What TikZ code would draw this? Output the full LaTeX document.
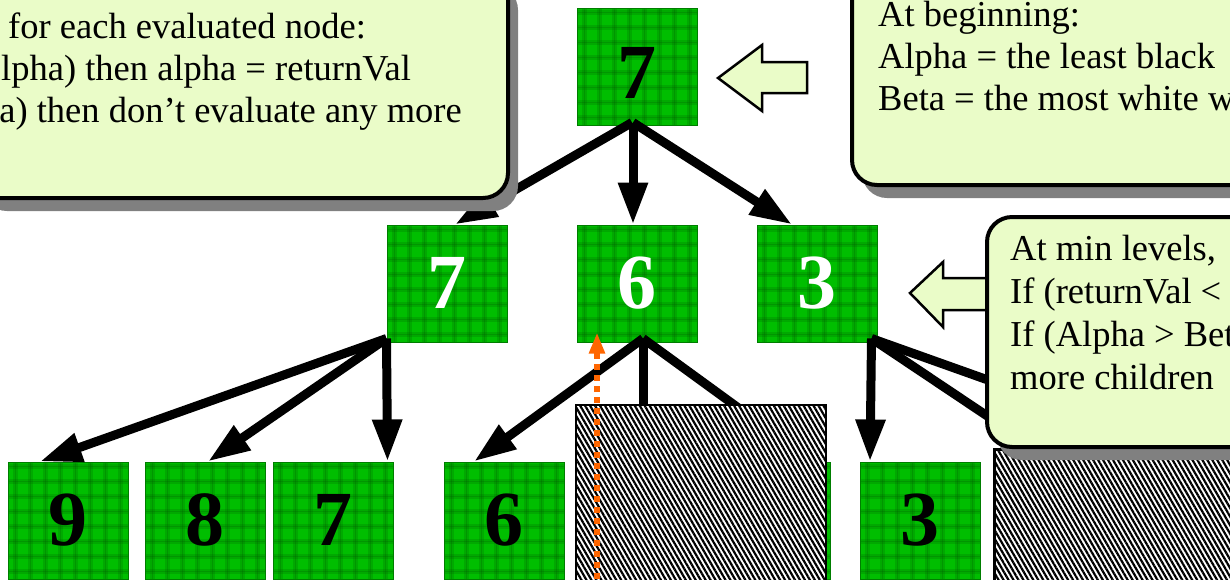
\documentclass[tikz,border=0pt]{standalone}
\usepackage{fontspec}
\setmainfont{Liberation Serif}
\usetikzlibrary{arrows.meta,patterns.meta,shadows}
\definecolor{gbase}{RGB}{0,190,0}
\definecolor{gline}{RGB}{0,95,0}
\definecolor{gborder}{RGB}{0,125,0}
\definecolor{callfill}{RGB}{234,252,200}
\definecolor{shadowgray}{RGB}{128,128,128}
\definecolor{orangearrow}{RGB}{255,102,0}
\begin{document}
\begin{tikzpicture}[x=1pt,y=-1pt,
  gnode/.style={rectangle, inner sep=0pt, minimum width=120pt, minimum height=117pt,
    fill=gbase, draw=gborder, line width=1pt,
    font=\fontsize{78}{78}\selectfont\bfseries, text height=55pt, text depth=6pt,
    path picture={
      \foreach \k in {0,...,7}{
        \draw[gline, line width=5pt, opacity=.22]
          ([xshift=\k*15pt+7.5pt]path picture bounding box.south west) --
          ([xshift=\k*15pt+7.5pt]path picture bounding box.north west);
        \draw[gline, line width=5pt, opacity=.22]
          ([yshift=\k*15pt+7.5pt]path picture bounding box.south west) --
          ([yshift=\k*15pt+7.5pt]path picture bounding box.south east);
        \draw[gline, line width=1.5pt, opacity=.25]
          ([xshift=\k*15pt+7.5pt]path picture bounding box.south west) --
          ([xshift=\k*15pt+7.5pt]path picture bounding box.north west);
        \draw[gline, line width=1.5pt, opacity=.25]
          ([yshift=\k*15pt+7.5pt]path picture bounding box.south west) --
          ([yshift=\k*15pt+7.5pt]path picture bounding box.south east);
      }}},
  tree/.style={line width=9pt, -{Triangle[length=42pt,width=28pt]}},
  hatch/.style={draw=black, line width=2.5pt, inner sep=0pt, preaction={fill=white},
    pattern={Lines[angle=-60, distance=4.3pt, line width=2.2pt]}, pattern color=black},
  blockarrow/.style={fill=callfill, draw=black, line width=2.5pt, line join=miter},
  callout/.style={rectangle, rounded corners=25pt, fill=callfill, draw=black, line width=4pt,
    inner sep=0pt, anchor=north west,
    drop shadow={shadow xshift=10pt, shadow yshift=-13pt, fill=shadowgray, opacity=1}},
  ctext/.style={inner sep=0pt, font=\fontsize{36.5}{42}\selectfont},
  orangeflow/.style={orangearrow, line width=6pt, dash pattern=on 6pt off 5pt,
    -{Triangle[length=21pt,width=15pt]}}
]
\useasboundingbox (0,0) rectangle (1230,579);
\clip (0,0) rectangle (1230,579);

% tree nodes
\node[gnode, text height=64pt, text depth=0pt] (t7) at (637,66.5) {7};
\node[gnode, text=white] (m7) at (447,283.5) {7};
\node[gnode, text=white] (m6) at (637,283.5) {6};
\node[gnode, text=white] (m3) at (817,283.5) {3};
\node[gnode] (b9) at (68,520.5) {9};
\node[gnode] (b8) at (205,520.5) {8};
\node[gnode] (b7) at (333,520.5) {7};
\node[gnode] (b6) at (504,520.5) {6};
\node[gnode] (h1) at (643,520.5) {};
\node[gnode] (h2) at (770,520.5) {};
\node[gnode] (b3) at (920,520.5) {3};
\coordinate (h3) at (1056,462);
\coordinate (h4) at (1218,462);

% edges
\draw[tree] ([xshift=-5pt,yshift=3pt]t7.south) -- ([xshift=8pt]m7.north);
\draw[tree] ([xshift=-4pt,yshift=3pt]t7.south) -- ([xshift=-4pt]m6.north);
\draw[tree] ([xshift=-4pt,yshift=3pt]t7.south) -- ([xshift=-25pt]m3.north);
\draw[tree] ([yshift=4pt]m7.south west) -- ([xshift=-28pt]b9.north);
\draw[tree] ([yshift=4pt]m7.south west) -- ([xshift=3pt]b8.north);
\draw[tree] ([yshift=4pt]m7.south west) -- ([xshift=-6pt]b7.north east);
\draw[tree] ([xshift=6pt,yshift=4pt]m6.south) -- ([xshift=-30pt]b6.north);
\draw[tree] ([xshift=6pt,yshift=4pt]m6.south) -- (h1.north);
\draw[tree] ([xshift=6pt,yshift=4pt]m6.south) -- ([xshift=42pt]h2.north);
\draw[tree] ([xshift=-6pt,yshift=4pt]m3.south east) -- ([xshift=-50pt]b3.north);
\draw[tree] ([xshift=-6pt,yshift=4pt]m3.south east) -- (h3);
\draw[tree] ([xshift=-6pt,yshift=4pt]m3.south east) -- (h4);

% pruned subtrees
\node[hatch, anchor=north west, minimum width=250pt, minimum height=190pt] (hb1) at (575,404) {};
\node[hatch, anchor=north west, minimum width=260pt, minimum height=150pt] (hb2) at (993,448) {};

% orange flow arrow
\coordinate (ostart) at (597,590);
\draw[orangeflow] (ostart) -- ([xshift=-40pt,yshift=10pt]m6.south);

% block arrows
\draw[blockarrow] (718,78) -- (762,45) -- (762,62) -- (807,62) -- (807,93) -- (762,93) -- (762,111) -- cycle;
\draw[blockarrow] (910,293) -- (943,262) -- (943,278) -- (995,278) -- (995,310) -- (943,310) -- (943,327) -- cycle;

% callouts
\node[callout, minimum width=536pt, minimum height=226pt] (c1) at (-30,-30) {};
\node[ctext, anchor=base west] (c1a) at (8,38) {for each evaluated node:};
\node[ctext, anchor=base west] (c1b) at (1,80) {lpha) then alpha = returnVal};
\node[ctext, anchor=base east] (c1c) at (462,122) {a) then don’t evaluate any more};

\node[callout, minimum width=420pt, minimum height=213pt] (c2) at (850,-30) {};
\node[ctext, anchor=base west] (c2a) at (878,26) {At beginning:};
\node[ctext, anchor=base west] (c2b) at (878,68) {Alpha = the least black};
\node[ctext, anchor=base west] (c2c) at (878,110) {Beta = the most white w};

\node[callout, minimum width=280pt, minimum height=230pt] (c3) at (985,215) {};
\node[ctext, anchor=base west] (c3a) at (1010,260) {At min levels,};
\node[ctext, anchor=base west] (c3b) at (1010,303) {If (returnVal <};
\node[ctext, anchor=base west] (c3c) at (1010,346) {If (Alpha > Bet};
\node[ctext, anchor=base west] (c3d) at (1010,389) {more children};
\end{tikzpicture}
\end{document}
